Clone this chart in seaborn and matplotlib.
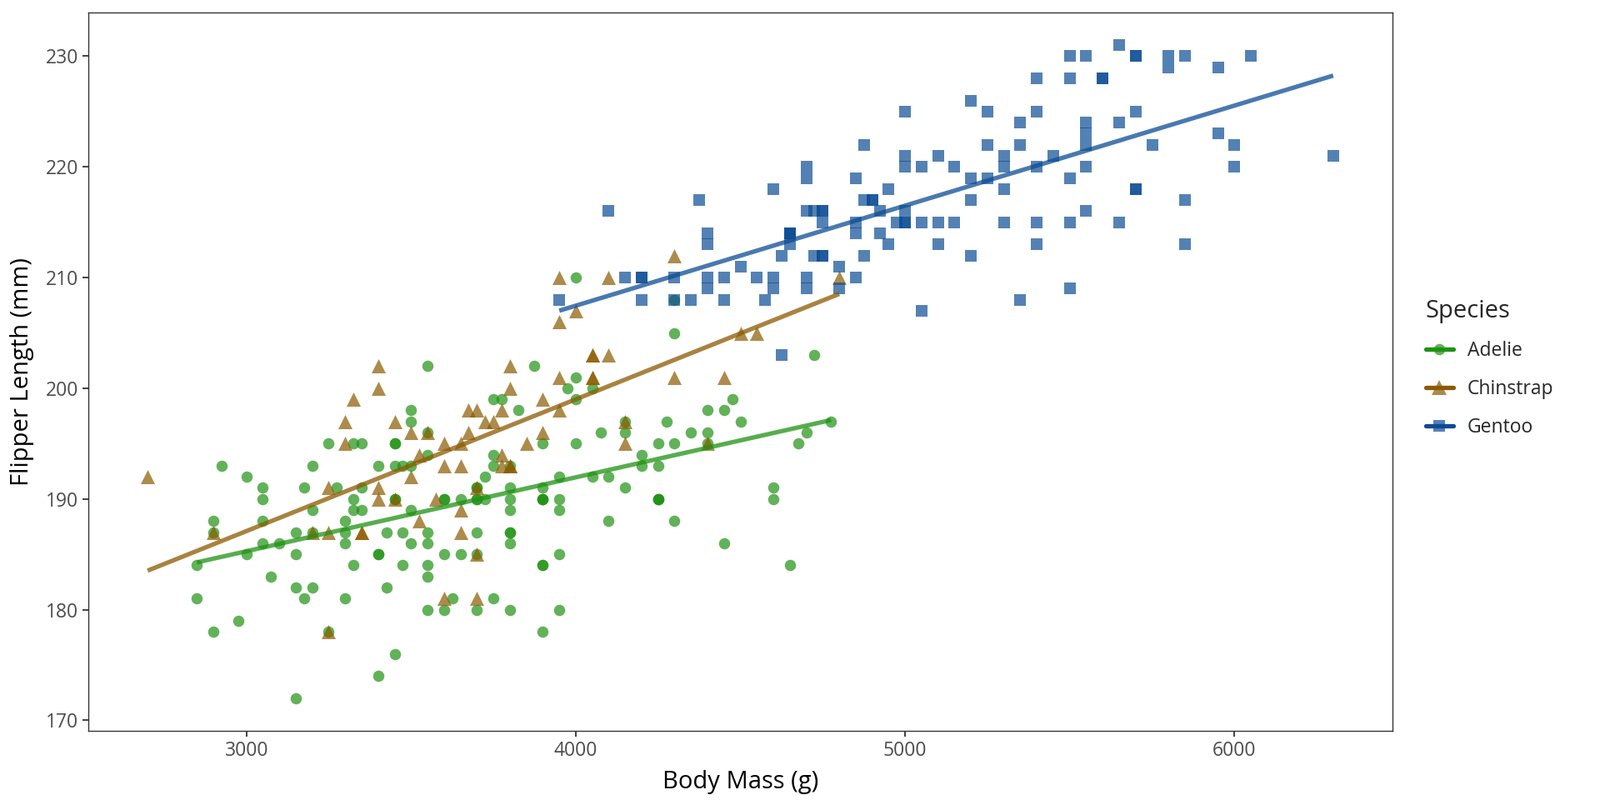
import numpy as np
import pandas as pd
import matplotlib.pyplot as plt
import seaborn as sns
from matplotlib.lines import Line2D
from matplotlib.legend_handler import HandlerTuple

# Palmer penguins: body mass (g) and flipper length (mm), per species
adelie_flipper = [
    181, 186, 195, 193, 190, 181, 195, 193, 190, 186, 180, 182, 191, 198, 185, 195, 197, 184, 194,
    174, 180, 189, 185, 180, 187, 183, 187, 172, 180,
    178, 178, 188, 184, 195, 196, 190, 180, 181, 184, 182, 195, 186, 196, 185, 190, 182, 179, 190, 191,
    186, 188, 190, 200, 187, 191, 186, 193, 181, 194, 185, 195, 185, 192, 184, 192, 195, 188,
    190, 198, 190, 190, 196, 197, 190, 195, 191, 184, 187, 195, 189, 196, 187, 193,
    191, 194, 190, 189, 189, 190, 202, 205, 185, 186, 187, 208, 190, 196, 178, 192,
    192, 203, 183, 190, 193, 184, 199, 190, 181, 197, 198, 191, 193, 197, 191, 196,
    188, 199, 189, 189, 187, 198, 176, 202, 186, 199, 191, 195, 191, 210, 190, 197,
    193, 199, 187, 190, 191, 200, 185, 193, 193, 187, 188, 190, 192, 185, 190, 184, 195, 193, 187, 201,
]
adelie_mass = [
    3750, 3800, 3250, 3450, 3650, 3625, 4675, 3475, 4250, 3300, 3700, 3200, 3800, 4400, 3700, 3450, 4500, 3325, 4200,
    3400, 3600, 3800, 3950, 3800, 3800, 3550, 3200, 3150, 3950,
    3250, 3900, 3300, 3900, 3325, 4150, 3950, 3550, 3300, 4650, 3150, 3900, 3100, 4400, 3000, 4600, 3425, 2975, 3450, 4150,
    3500, 4300, 3450, 4050, 2900, 3700, 3550, 3800, 2850, 3750, 3150, 4400, 3600, 4050, 2850, 3950, 3350, 4100,
    3050, 4450, 3600, 3900, 3550, 4150, 3700, 4250, 3700, 3900, 3550, 4000, 3200, 4700, 3800, 4200,
    3350, 3550, 3800, 3500, 3950, 3600, 3550, 4300, 3400, 4450, 3300, 4300, 3700, 4350, 2900, 4100,
    3725, 4725, 3075, 4250, 2925, 3550, 3750, 3900, 3175, 4775, 3825, 4600, 3200, 4275, 3900, 4075,
    2900, 3775, 3350, 3325, 3150, 3500, 3450, 3875, 3050, 4000, 3275, 4300, 3050, 4000, 3325, 3500,
    3500, 4475, 3425, 3900, 3175, 3975, 3400, 4250, 3400, 3475, 3050, 3725, 3000, 3650, 4250, 3475, 3450, 3750, 3700, 4000,
]
chinstrap_flipper = [
    192, 196, 193, 188, 197, 198, 178, 197, 195, 198, 193, 194, 185, 201, 190, 201, 197, 181, 190, 195,
    181, 191, 187, 193, 195, 197, 200, 200, 191, 205, 187, 201, 187, 203, 195, 199, 195, 210, 192, 205,
    210, 187, 196, 196, 196, 201, 190, 212, 187, 198, 199, 201, 193, 203, 187, 197, 191, 203, 202, 194,
    206, 189, 195, 207, 202, 193, 210, 198,
]
chinstrap_mass = [
    3500, 3900, 3650, 3525, 3725, 3950, 3250, 3750, 4150, 3700, 3800, 3775, 3700, 4050, 3575, 4050, 3300, 3700, 3450, 4400,
    3600, 3400, 2900, 3800, 3300, 4150, 3400, 3800, 3700, 4550, 3200, 4300, 3350, 4100, 3600, 3900, 3850, 4800, 2700, 4500,
    3950, 3650, 3550, 3500, 3675, 4450, 3400, 4300, 3250, 3675, 3325, 3950, 3600, 4050, 3350, 3450, 3250, 4050, 3800, 3525,
    3950, 3650, 3650, 4000, 3400, 3775, 4100, 3775,
]
gentoo_flipper = [
    211, 230, 210, 218, 215, 210, 211, 219, 209, 215, 214, 216, 214, 213, 210, 217, 210, 221, 209, 222,
    218, 215, 213, 215, 215, 215, 216, 215, 210, 220, 222, 209, 207, 230, 220, 220, 213, 219, 208, 208,
    208, 225, 210, 216, 222, 217, 210, 225, 213, 215, 210, 220, 210, 225, 217, 220, 208, 220, 208, 224,
    208, 221, 214, 231, 219, 230, 214, 229, 220, 223, 216, 221, 221, 217, 216, 230, 209, 220, 215, 223,
    212, 221, 212, 224, 212, 228, 218, 218, 212, 230, 218, 228, 212, 224, 214, 226, 216, 222, 203, 225,
    219, 228, 215, 228, 216, 215, 210, 219, 208, 209, 216, 229, 213, 230, 217, 230, 217, 222, 214, 215,
    222, 212, 213,
]
gentoo_mass = [
    4500, 5700, 4450, 5700, 5400, 4550, 4800, 5200, 4400, 5150, 4650, 5550, 4650, 5850, 4200, 5850, 4150, 6300, 4800, 5350,
    5700, 5000, 4400, 5050, 5000, 5100, 4100, 5650, 4600, 5550, 5250, 4700, 5050, 6050, 5150, 5400, 4950, 5250, 4350, 5350,
    3950, 5700, 4300, 4750, 5550, 4900, 4200, 5400, 5100, 5300, 4850, 5300, 4400, 5000, 4900, 5050, 4300, 5000, 4450, 5550,
    4200, 5300, 4400, 5650, 4700, 5700, 4650, 5800, 4700, 5550, 4750, 5000, 5100, 5200, 4700, 5800, 4600, 6000, 4750, 5950,
    4625, 5450, 4725, 5350, 4750, 5600, 4600, 5300, 4875, 5550, 4950, 5400, 4750, 5650, 4850, 5200, 4925, 4875, 4625, 5250,
    4850, 5600, 4975, 5500, 4725, 5500, 4700, 5500, 4575, 5500, 5000, 5950, 4650, 5500, 4375, 5850, 4875, 6000, 4925, 4850,
    5750, 5200, 5400,
]

species = ["Adelie", "Chinstrap", "Gentoo"]
colors = {"Adelie": "#1f9212", "Chinstrap": "#8b5a00", "Gentoo": "#0c4c94"}
markers = {"Adelie": "o", "Chinstrap": "^", "Gentoo": "s"}
sizes = {"Adelie": 95, "Chinstrap": 150, "Gentoo": 88}

df = pd.concat([
    pd.DataFrame({"species": "Adelie", "body_mass_g": adelie_mass, "flipper_length_mm": adelie_flipper}),
    pd.DataFrame({"species": "Chinstrap", "body_mass_g": chinstrap_mass, "flipper_length_mm": chinstrap_flipper}),
    pd.DataFrame({"species": "Gentoo", "body_mass_g": gentoo_mass, "flipper_length_mm": gentoo_flipper}),
], ignore_index=True)

sns.set_theme(style="white")
plt.rcParams["font.family"] = ["Open Sans", "DejaVu Sans"]

fig = plt.figure(figsize=(19.2, 9.6), dpi=100)
ax = fig.add_axes([106 / 1920, 83 / 960, 1565 / 1920, 862 / 960])

for sp in species:
    sub = df[df["species"] == sp]
    sns.scatterplot(data=sub, x="body_mass_g", y="flipper_length_mm", ax=ax,
                    color=colors[sp], marker=markers[sp], s=sizes[sp],
                    alpha=0.7, linewidth=0, legend=False)
for sp in species:
    sub = df[df["species"] == sp]
    sns.regplot(data=sub, x="body_mass_g", y="flipper_length_mm", ax=ax,
                scatter=False, ci=None, truncate=True,
                line_kws={"color": colors[sp], "alpha": 0.75, "lw": 3.8, "solid_capstyle": "butt"})

ax.set_xlim(2520, 6480)
ax.set_ylim(169.05, 233.95)
ax.set_xticks([3000, 4000, 5000, 6000])
ax.set_yticks([170, 180, 190, 200, 210, 220, 230])
ax.set_xlabel("Body Mass (g)", fontsize=21, color="black", labelpad=8)
ax.set_ylabel("Flipper Length (mm)", fontsize=21, color="black", labelpad=10)
ax.tick_params(axis="both", which="major", labelsize=16.5, labelcolor="#4d4d4d",
               color="#333333", length=5, width=1.3, direction="out",
               bottom=True, left=True)
for spine in ax.spines.values():
    spine.set_color("#333333")
    spine.set_linewidth(1.0)
ax.grid(False)

handles = []
for sp in species:
    pt = Line2D([], [], linestyle="none", marker=markers[sp], markersize=np.sqrt(sizes[sp]),
                markerfacecolor=colors[sp], markeredgewidth=0, alpha=0.7)
    ln = Line2D([], [], color=colors[sp], lw=3.8)
    handles.append((pt, ln))

leg = fig.legend(handles, species, loc="upper left", bbox_to_anchor=(1690 / 1920, 1 - 338 / 960),
                 frameon=False, title="Species", title_fontsize=21, fontsize=16.5,
                 handlelength=1.45, handletextpad=0.75, labelspacing=0.95,
                 handler_map={tuple: HandlerTuple(ndivide=1, pad=0)},
                 alignment="left")

fig.savefig("out.png", dpi=100)
